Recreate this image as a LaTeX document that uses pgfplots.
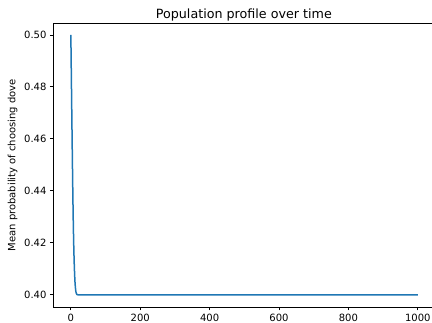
\documentclass[border=0pt]{standalone}
\usepackage{fontspec}
\setmainfont{DejaVu Sans}
\usepackage{pgfplots}
\pgfplotsset{compat=1.18}
\definecolor{mplblue}{HTML}{1F77B4}
\begin{document}
\begin{tikzpicture}
\begin{axis}[
  at={(0,0)}, anchor=south west,
  scale only axis,
  width=378.5pt, height=283.5pt,
  xmin=-50, xmax=1041,
  ymin=0.3953, ymax=0.5044,
  xtick={0,200,400,600,800,1000},
  ytick={0.40,0.42,0.44,0.46,0.48,0.50},
  xticklabel style={/pgf/number format/1000 sep={}},
  yticklabel style={/pgf/number format/fixed,/pgf/number format/fixed zerofill,/pgf/number format/precision=2},
  /pgf/number format/assume math mode=true,
  scaled y ticks=false,
  tick align=outside,
  major tick length=3.5pt,
  tick style={black, line width=0.8pt},
  xtick pos=bottom, ytick pos=left,
  axis line style={line width=0.8pt},
  tick label style={font=\fontsize{10}{12}\selectfont},
  clip=true,
]
\addplot[mplblue, line width=1.5pt] coordinates {
(0,0.5000) (1,0.4890) (2,0.4780) (3,0.4670) (4,0.4565) (5,0.4460)
(6,0.4365) (7,0.4280) (8,0.4210) (9,0.4155) (10,0.4110) (11,0.4075)
(12,0.4048) (13,0.4030) (14,0.4017) (15,0.4009) (16,0.4005) (17,0.4002)
(18,0.4001) (20,0.4000) (25,0.4000) (100,0.4000) (500,0.4000) (1000,0.4000)
};
\end{axis}
\node[anchor=base, font=\fontsize{12.7}{15}\selectfont] at (190.35pt,288.9pt) {Population profile over time};
\node[anchor=base, rotate=90, font=\fontsize{10}{12}\selectfont] at (-38pt,141.75pt) {Mean probability of choosing dove};
\pgfresetboundingbox
\path[use as bounding box] (-53.5pt,-16pt) rectangle (378.5pt,307pt);
\end{tikzpicture}
\end{document}
